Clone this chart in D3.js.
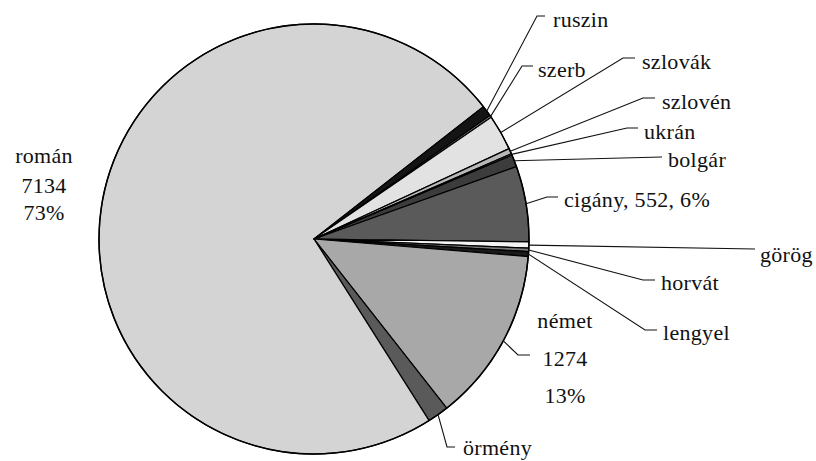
<!DOCTYPE html>
<html>
<head>
<meta charset="utf-8">
<script src="https://cdn.jsdelivr.net/npm/d3@7"></script>
<style>
  body { margin: 0; background: #fff; }
  text { font-family: "Liberation Serif", serif; font-size: 22px; fill: #111; letter-spacing: 0.3px; }
</style>
</head>
<body>
<div id="chart"></div>
<script>
// nemzetiségek (ábécérendben, ahogy a kördiagram körbejár)
const groups = ['bolgár', 'cigány', 'görög', 'horvát', 'lengyel', 'német', 'örmény',
                'román', 'ruszin', 'szerb', 'szlovák', 'szlovén', 'ukrán'];
const counts = [90, 552, 45, 25, 35, 1274, 155, 7134, 80, 15, 260, 40, 10];
const shades = ['#3c3c3c', '#5a5a5a', '#f4f4f4', '#7a7a7a', '#1a1a1a', '#a8a8a8', '#5a5a5a',
                '#d4d4d4', '#141414', '#8a8a8a', '#e2e2e2', '#b8b8b8', '#909090'];

// label layout: elbow point, end of the short horizontal, text start, baseline
const labelLayout = {
  'ruszin':  { elbow: [537, 16],  end: [545, 16],  tx: 553, ty: [27] },
  'szerb':   { elbow: [522, 66],  end: [533, 66],  tx: 538, ty: [77] },
  'szlovák': { elbow: [623, 58],  end: [635, 58],  tx: 642, ty: [69] },
  'szlovén': { elbow: [643, 98],  end: [655, 98],  tx: 662, ty: [109] },
  'ukrán':   { elbow: [627, 128], end: [638, 128], tx: 644, ty: [139] },
  'bolgár':  { elbow: [662, 157], end: [662, 157], tx: 668, ty: [167] },
  'cigány':  { elbow: [547, 197], end: [558, 197], tx: 564, ty: [207], full: true },
  'görög':   { elbow: [755, 249], end: [755, 249], tx: 760, ty: [262] },
  'horvát':  { elbow: [643, 280], end: [655, 280], tx: 661, ty: [290] },
  'lengyel': { elbow: [645, 330], end: [657, 330], tx: 663, ty: [340] },
  'német':   { elbow: [518, 355], end: [530, 355], tx: 565, ty: [328, 366, 403], stack: true },
  'örmény':  { elbow: [447, 447], end: [455, 447], tx: 463, ty: [455] },
  'román':   { tx: 44, ty: [163, 193, 220], stack: true }
};

const W = 816, H = 461;
const cx = 314, cy = 239, R = 215;
const total = d3.sum(counts);
const pct = v => Math.round(v / total * 100) + '%';

const svg = d3.select('#chart').append('svg')
  .attr('width', W)
  .attr('height', H);

const g = svg.append('g').attr('transform', 'translate(' + cx + ',' + cy + ')');

const startDeg = 67;
const pie = d3.pie()
  .sort(null)
  .value(d => d.v)
  .startAngle(startDeg * Math.PI / 180)
  .endAngle(startDeg * Math.PI / 180 + 2 * Math.PI);

const data = groups.map((k, i) => ({ k: k, v: counts[i], c: shades[i] }));
const arcs = pie(data);

const arc = d3.arc().innerRadius(0).outerRadius(R);
const rim = d3.arc().innerRadius(R).outerRadius(R);

g.selectAll('path.slice')
  .data(arcs)
  .enter()
  .append('path')
  .attr('class', 'slice')
  .attr('d', arc)
  .attr('fill', d => d.data.c)
  .attr('stroke', '#000')
  .attr('stroke-width', 1.2)
  .attr('stroke-linejoin', 'round');

// outer rim a bit heavier
g.append('circle')
  .attr('r', R)
  .attr('fill', 'none')
  .attr('stroke', '#000')
  .attr('stroke-width', 1.5);

// leader lines
arcs.forEach(d => {
  const L = labelLayout[d.data.k];
  if (!L.elbow) return;
  const p = rim.centroid(d);
  const pts = [[p[0] + cx, p[1] + cy], L.elbow, L.end];
  svg.append('path')
    .attr('d', d3.line()(pts))
    .attr('fill', 'none')
    .attr('stroke', '#111')
    .attr('stroke-width', 1.1);
});

// labels
arcs.forEach(d => {
  const L = labelLayout[d.data.k];
  const v = d.data.v;
  if (L.stack) {
    const lines = [d.data.k, String(v), pct(v)];
    lines.forEach((s, i) => {
      svg.append('text')
        .attr('x', L.tx)
        .attr('y', L.ty[i])
        .attr('text-anchor', 'middle')
        .text(s);
    });
  } else {
    svg.append('text')
      .attr('x', L.tx)
      .attr('y', L.ty[0])
      .text(L.full ? d.data.k + ', ' + v + ', ' + pct(v) : d.data.k);
  }
});
</script>
</body>
</html>
